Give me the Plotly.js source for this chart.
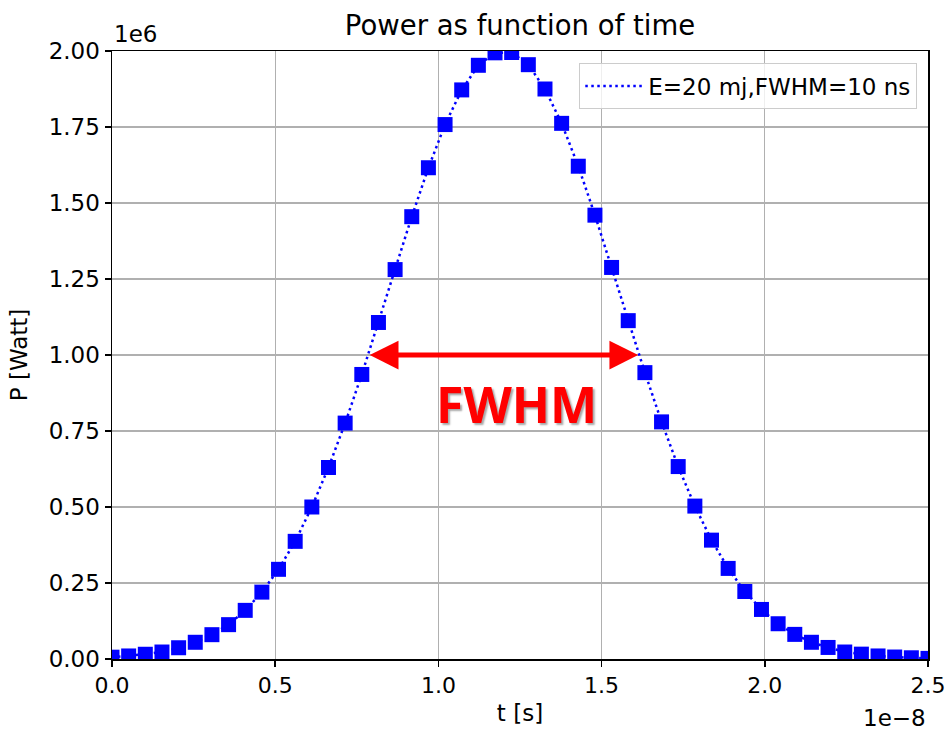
<!DOCTYPE html>
<html>
<head>
<meta charset="utf-8">
<script src="https://cdn.plot.ly/plotly-3.0.1.min.js"></script>
<style>html,body{margin:0;padding:0;background:#fff;}#chart{width:946px;height:731px;}</style>
</head>
<body>
<div id="chart"></div>
<script>
// time samples [s]
const tSeconds = [0, 5.102e-10, 1.0204e-9, 1.5306e-9, 2.0408e-9, 2.5510e-9, 3.0612e-9, 3.5714e-9, 4.0816e-9, 4.5918e-9,
  5.1020e-9, 5.6122e-9, 6.1224e-9, 6.6327e-9, 7.1429e-9, 7.6531e-9, 8.1633e-9, 8.6735e-9, 9.1837e-9, 9.6939e-9,
  1.02041e-8, 1.07143e-8, 1.12245e-8, 1.17347e-8, 1.22449e-8, 1.27551e-8, 1.32653e-8, 1.37755e-8, 1.42857e-8, 1.47959e-8,
  1.53061e-8, 1.58163e-8, 1.63265e-8, 1.68367e-8, 1.73469e-8, 1.78571e-8, 1.83673e-8, 1.88776e-8, 1.93878e-8, 1.98980e-8,
  2.04082e-8, 2.09184e-8, 2.14286e-8, 2.19388e-8, 2.24490e-8, 2.29592e-8, 2.34694e-8, 2.39796e-8, 2.44898e-8, 2.5e-8];
// power [W]
const powerWatt = [6000, 10000, 15600, 23000, 37000, 55000, 80000, 113000, 160000, 220000,
  295000, 387000, 500000, 630000, 776000, 936000, 1107000, 1281000, 1455000, 1616000,
  1758000, 1872000, 1953000, 1994000, 1995000, 1955000, 1875000, 1762000, 1621000, 1460000,
  1288000, 1113000, 942000, 780000, 633000, 503000, 391000, 298000, 222000, 163000,
  116000, 81000, 55000, 38000, 23000, 16000, 10000, 6500, 4000, 2000];

const seriesName = 'E=20 mj,FWHM=10 ns';
const xTickVals = [0, 0.5e-8, 1.0e-8, 1.5e-8, 2.0e-8, 2.5e-8];
const xTickText = ['0.0', '0.5', '1.0', '1.5', '2.0', '2.5'];
const yTickVals = [0, 0.25e6, 0.5e6, 0.75e6, 1.0e6, 1.25e6, 1.5e6, 1.75e6, 2.0e6];
const yTickText = ['0.00', '0.25', '0.50', '0.75', '1.00', '1.25', '1.50', '1.75', '2.00'];
const fwhmLeft = 0.785e-8, fwhmRight = 1.612e-8, halfMax = 1.0e6;
const fwhmLabelPos = [1.24e-8, 0.84e6];

const FONT = 'DejaVu Sans, sans-serif';
const FS = 23;
const lineStyle = {color: '#0000ff', width: 2.5, dash: '2.5px,3.5px'};

const traces = [
  {x: tSeconds, y: powerWatt, type: 'scatter', mode: 'lines+markers',
   line: lineStyle, marker: {symbol: 'square', size: 15, color: '#0000ff'},
   showlegend: false, cliponaxis: true, hoverinfo: 'x+y'},
  {x: [null], y: [null], type: 'scatter', mode: 'lines', line: lineStyle, name: seriesName, showlegend: true}
];

const axisCommon = {
  showline: true, mirror: true, linecolor: '#000', linewidth: 1.5,
  ticks: 'outside', ticklen: 6, tickwidth: 1.5, tickcolor: '#000',
  showgrid: true, gridcolor: '#b0b0b0', gridwidth: 1.4, zeroline: false,
  tickfont: {family: FONT, size: FS, color: '#000'}
};

const layout = {
  width: 946, height: 731,
  paper_bgcolor: '#fff', plot_bgcolor: '#fff',
  margin: {l: 112, r: 18, t: 51, b: 72},
  title: {text: 'Power as function of time', font: {family: FONT, size: 27.5, color: '#000'},
          x: 0.5, xref: 'paper', y: 1 - 25 / 731, yref: 'container', yanchor: 'middle'},
  xaxis: Object.assign({}, axisCommon, {
    range: [0, 2.5e-8], tickmode: 'array', tickvals: xTickVals, ticktext: xTickText,
    tickfont: {family: FONT, size: 22, color: '#000'},
    title: {text: 't [s]', font: {family: FONT, size: FS, color: '#000'}, standoff: 8}
  }),
  yaxis: Object.assign({}, axisCommon, {
    range: [0, 2.0e6], tickmode: 'array', tickvals: yTickVals, ticktext: yTickText,
    title: {text: 'P [Watt]', font: {family: FONT, size: FS, color: '#000'}, standoff: 14}
  }),
  showlegend: true,
  legend: {x: 0.9865, xanchor: 'right', y: 0.98, yanchor: 'top', itemwidth: 58,
           bgcolor: 'rgba(255,255,255,0.8)', bordercolor: '#cccccc', borderwidth: 1.3,
           font: {family: FONT, size: FS, color: '#000'}},
  annotations: [
    {xref: 'paper', yref: 'paper', x: 0, y: 1, xanchor: 'left', yanchor: 'bottom', yshift: 2,
     text: '1e6', showarrow: false, font: {family: FONT, size: FS, color: '#000'}},
    {xref: 'paper', yref: 'paper', x: 1, y: 0, xanchor: 'right', yanchor: 'top', yshift: -44,
     text: '1e\u22128', showarrow: false, font: {family: FONT, size: FS, color: '#000'}},
    {xref: 'x', yref: 'y', axref: 'x', ayref: 'y', x: fwhmRight, y: halfMax, ax: fwhmLeft, ay: halfMax,
     text: '', showarrow: true, arrowside: 'end+start', arrowhead: 2, startarrowhead: 2,
     arrowsize: 1.15, startarrowsize: 1.15, arrowwidth: 5, arrowcolor: '#ff0000', font: {size: 1}},
    {xref: 'x', yref: 'y', x: fwhmLabelPos[0], y: fwhmLabelPos[1], text: 'FWHM', showarrow: false,
     font: {family: 'Open Sans, sans-serif', size: 50, color: '#ff0000', weight: 'bold',
            shadow: '2px 2px 2px rgba(0,0,0,0.35)'}}
  ]
};

Plotly.newPlot('chart', traces, layout, {displayModeBar: false, staticPlot: true});
</script>
</body>
</html>
